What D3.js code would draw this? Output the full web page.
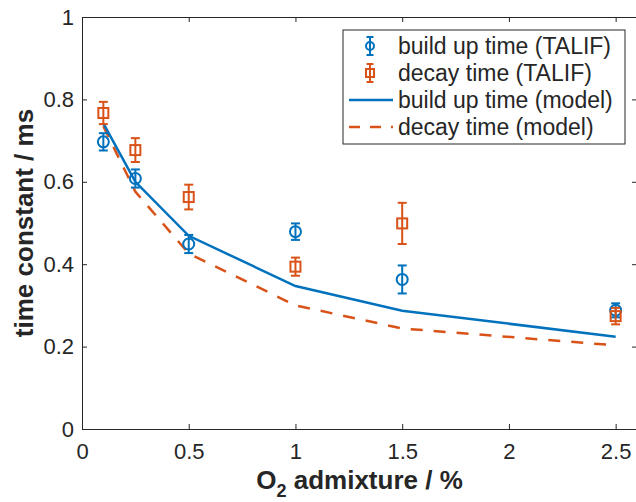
<!DOCTYPE html>
<html>
<head>
<meta charset="utf-8">
<script src="https://cdn.jsdelivr.net/npm/d3@7"></script>
<style>
  body { margin: 0; background: #fff; }
  text { font-family: "Liberation Sans", Arial, sans-serif; fill: #262626; }
</style>
</head>
<body>
<div id="chart-area"></div>
<script>
// O2 admixture (%)
var admix = [0.1, 0.25, 0.5, 1, 1.5, 2.5];

// TALIF measurements (ms) and error half-widths
var buildTalif = [0.697, 0.608, 0.449, 0.479, 0.363, 0.288];
var buildErr   = [0.021, 0.022, 0.022, 0.020, 0.034, 0.017];
var decayTalif = [0.767, 0.677, 0.563, 0.394, 0.499, 0.274];
var decayErr   = [0.027, 0.029, 0.030, 0.022, 0.050, 0.020];

// model curves (ms)
var buildModel = [0.742, 0.600, 0.469, 0.347, 0.287, 0.224];
var decayModel = [0.735, 0.576, 0.426, 0.300, 0.244, 0.203];

var xTicks = [0, 0.5, 1, 1.5, 2, 2.5];
var yTicks = [0, 0.2, 0.4, 0.6, 0.8, 1];

var legendLabels = ["build up time (TALIF)", "decay time (TALIF)",
                    "build up time (model)", "decay time (model)"];

var blue = "#0072BD", orange = "#D95319", axisCol = "#262626";

var W = 636, H = 502;
var margin = {top: 17, right: -1, bottom: 73, left: 82};
var width = W - margin.left - margin.right;
var height = H - margin.top - margin.bottom;

var svg = d3.select("#chart-area").append("svg")
    .attr("width", W)
    .attr("height", H);

var g = svg.append("g")
    .attr("transform", "translate(" + margin.left + "," + margin.top + ")");

var x = d3.scaleLinear().domain([0, 2.6]).range([0, width]);
var y = d3.scaleLinear().domain([0, 1]).range([height, 0]);

// axes (ticks pointing inward, box on)
var xAxis = d3.axisBottom(x).tickValues(xTicks).tickSize(-5).tickPadding(14)
    .tickFormat(d3.format("~g"));
var yAxis = d3.axisLeft(y).tickValues(yTicks).tickSize(-5).tickPadding(8)
    .tickFormat(d3.format("~g"));

function styleAxis(sel) {
  sel.selectAll("path, line").attr("stroke", axisCol);
  sel.select(".domain").attr("stroke-width", 1);
  sel.selectAll("text").style("font-size", "22px").attr("fill", axisCol);
}

g.append("g").attr("transform", "translate(0," + height + ")").call(xAxis).call(styleAxis);
g.append("g").call(yAxis).call(styleAxis);
g.append("g").call(d3.axisTop(x).tickValues(xTicks).tickSize(-5).tickFormat(""))
  .call(styleAxis);
g.append("g").attr("transform", "translate(" + width + ",0)")
  .call(d3.axisRight(y).tickValues(yTicks).tickSize(-5).tickFormat(""))
  .call(styleAxis);

// axis labels
g.append("text")
    .attr("x", width / 2)
    .attr("y", height + 60)
    .attr("text-anchor", "middle")
    .style("font-size", "26px")
    .style("font-weight", "bold")
    .call(function(t) {
      t.append("tspan").text("O");
      t.append("tspan").attr("dy", 8).style("font-size", "18px").text("2");
      t.append("tspan").attr("dy", -8).text(" admixture / %");
    });

g.append("text")
    .attr("transform", "rotate(-90)")
    .attr("x", -206)
    .attr("y", -49)
    .attr("text-anchor", "middle")
    .style("font-size", "26px")
    .style("font-weight", "bold")
    .text("time constant / ms");

// model lines
var line = d3.line().x(function(d) { return x(d[0]); }).y(function(d) { return y(d[1]); });

g.append("path")
    .datum(d3.zip(admix, decayModel))
    .attr("d", line)
    .attr("fill", "none")
    .attr("stroke", orange)
    .attr("stroke-width", 2.5)
    .attr("stroke-dasharray", "12,11");

g.append("path")
    .datum(d3.zip(admix, buildModel))
    .attr("d", line)
    .attr("fill", "none")
    .attr("stroke", blue)
    .attr("stroke-width", 2.5);

// error bars + markers
function errorSeries(vals, errs, col, shape) {
  var data = admix.map(function(a, i) { return {x: a, v: vals[i], e: errs[i]}; });
  var grp = g.append("g").selectAll("g").data(data).enter().append("g")
      .attr("stroke", col).attr("stroke-width", 2).attr("fill", "none");
  grp.append("line")
      .attr("x1", function(d) { return x(d.x); }).attr("x2", function(d) { return x(d.x); })
      .attr("y1", function(d) { return y(d.v - d.e); }).attr("y2", function(d) { return y(d.v + d.e); });
  [-1, 1].forEach(function(s) {
    grp.append("line")
        .attr("x1", function(d) { return x(d.x) - 4.5; }).attr("x2", function(d) { return x(d.x) + 4.5; })
        .attr("y1", function(d) { return y(d.v + s * d.e); }).attr("y2", function(d) { return y(d.v + s * d.e); });
  });
  if (shape === "circle") {
    grp.append("circle")
        .attr("cx", function(d) { return x(d.x); }).attr("cy", function(d) { return y(d.v); })
        .attr("r", 5.5);
  } else {
    grp.append("rect")
        .attr("x", function(d) { return x(d.x) - 5; }).attr("y", function(d) { return y(d.v) - 5; })
        .attr("width", 10).attr("height", 10);
  }
}
errorSeries(buildTalif, buildErr, blue, "circle");
errorSeries(decayTalif, decayErr, orange, "square");

// legend
var leg = svg.append("g").attr("transform", "translate(343,30)");
leg.append("rect").attr("width", 282).attr("height", 114)
    .attr("fill", "#fff").attr("stroke", axisCol).attr("stroke-width", 1);

var rowY = [16, 43, 70, 97];
legendLabels.forEach(function(lbl, i) {
  var ry = rowY[i];
  if (i < 2) {
    var col = i === 0 ? blue : orange;
    var m = leg.append("g").attr("stroke", col).attr("stroke-width", 2).attr("fill", "none");
    m.append("line").attr("x1", 27).attr("x2", 27).attr("y1", ry - 9).attr("y2", ry + 9);
    m.append("line").attr("x1", 23.5).attr("x2", 30.5).attr("y1", ry - 9).attr("y2", ry - 9);
    m.append("line").attr("x1", 23.5).attr("x2", 30.5).attr("y1", ry + 9).attr("y2", ry + 9);
    if (i === 0) m.append("circle").attr("cx", 27).attr("cy", ry).attr("r", 4);
    else m.append("rect").attr("x", 23).attr("y", ry - 4).attr("width", 8).attr("height", 8);
  } else {
    leg.append("line").attr("x1", 6).attr("x2", 50).attr("y1", ry).attr("y2", ry)
        .attr("stroke", i === 2 ? blue : orange).attr("stroke-width", 2.5)
        .attr("stroke-dasharray", i === 3 ? "11,10" : null);
  }
  leg.append("text").attr("x", 55).attr("y", ry + 8)
      .style("font-size", "23px").text(lbl);
});
</script>
</body>
</html>
